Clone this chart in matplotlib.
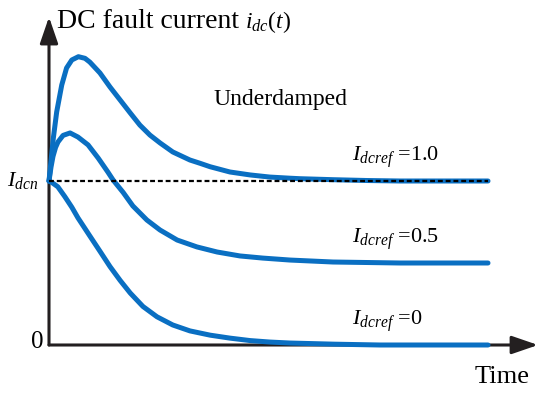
import matplotlib.pyplot as plt

# Schematic values (time and current in normalised units)
t_ref10 = [0, 0.0098, 0.0175, 0.029, 0.040, 0.052, 0.067, 0.082, 0.093, 0.116,
           0.139, 0.162, 0.185, 0.207, 0.230, 0.253, 0.282, 0.321, 0.344, 0.367,
           0.412, 0.458, 0.503, 0.549, 0.572, 0.647, 0.724, 0.80, 1.0]
i_ref10 = [1.0, 1.260, 1.421, 1.585, 1.689, 1.738, 1.758, 1.748, 1.725, 1.659,
           1.573, 1.494, 1.415, 1.341, 1.280, 1.232, 1.177, 1.128, 1.108, 1.087,
           1.055, 1.037, 1.024, 1.017, 1.014, 1.008, 1.003, 1.0, 1.0]

t_ref05 = [0, 0.0046, 0.0091, 0.015, 0.0205, 0.032, 0.048, 0.066, 0.089, 0.112,
           0.134, 0.146, 0.169, 0.191, 0.223, 0.253, 0.292, 0.337, 0.383, 0.435,
           0.487, 0.549, 0.647, 0.80, 1.0]
i_ref05 = [1.0, 1.085, 1.150, 1.205, 1.238, 1.278, 1.293, 1.268, 1.220, 1.140,
           1.055, 1.006, 0.930, 0.848, 0.762, 0.701, 0.640, 0.598, 0.567, 0.543,
           0.530, 0.518, 0.506, 0.5, 0.5]

t_ref00 = [0, 0.007, 0.020, 0.036, 0.052, 0.066, 0.080, 0.093, 0.116, 0.139,
           0.162, 0.185, 0.214, 0.246, 0.282, 0.321, 0.367, 0.412, 0.458, 0.503,
           0.549, 0.65, 0.754, 1.0]
i_ref00 = [1.0, 0.990, 0.965, 0.905, 0.840, 0.775, 0.718, 0.665, 0.572, 0.478,
           0.394, 0.317, 0.235, 0.172, 0.122, 0.086, 0.060, 0.042, 0.027, 0.018,
           0.012, 0.005, 0.0, 0.0]

i_dcn = 1.0
labels = ['=1.0', '=0.5', '=0']

plt.rcParams['font.family'] = 'Liberation Serif'
plt.rcParams['mathtext.fontset'] = 'custom'
plt.rcParams['mathtext.rm'] = 'Liberation Serif'
plt.rcParams['mathtext.it'] = 'Liberation Serif:italic'

fig = plt.figure(figsize=(5.5, 3.94), dpi=100)
ax = fig.add_axes([0, 0, 1, 1])
ax.set_xlim(-49 / 439, 501 / 439)
ax.set_ylim(-49 / 164, 345 / 164)
ax.axis('off')

blue = '#0a6fc2'
axis_col = '#231f20'

# axes with arrow heads
arrow = dict(arrowstyle='-|>,head_length=1.6,head_width=0.55', color=axis_col,
             lw=2.2, shrinkA=0, shrinkB=0, mutation_scale=10)
ax.annotate('', xy=(0, 2.0), xytext=(0, 0), arrowprops=arrow, zorder=1)
ax.annotate('', xy=(1.114, 0), xytext=(0, 0), arrowprops=arrow, zorder=1)

for t, i in [(t_ref10, i_ref10), (t_ref05, i_ref05), (t_ref00, i_ref00)]:
    ax.plot(t, i, color=blue, lw=3.6, solid_capstyle='round',
            solid_joinstyle='round', zorder=3)

ax.plot([0, 1.0], [i_dcn, i_dcn], color='black', lw=1.6, ls=(0, (2.2, 1.3)), zorder=4)

ax.text(0.018, 1.933, 'DC fault current', fontsize=20, va='baseline')
ax.text(0.446, 1.933, r'$i_{dc}(t)$', fontsize=17, va='baseline')
ax.text(0.374, 1.463, 'Underdamped', fontsize=17, va='baseline')
ax.text(-0.025, 0.970, r'$I_{dcn}$', fontsize=16, ha='right', va='baseline')
ax.text(-0.027, -0.018, '0', fontsize=18, ha='center', va='baseline')
for y, lab in zip([1.122, 0.622, 0.122], labels):
    ax.text(0.690, y, r'$I_{dcref}$ ' + lab, fontsize=16, va='baseline')
ax.text(0.970, -0.232, 'Time', fontsize=19, va='baseline')

fig.savefig('out.png', dpi=100)
